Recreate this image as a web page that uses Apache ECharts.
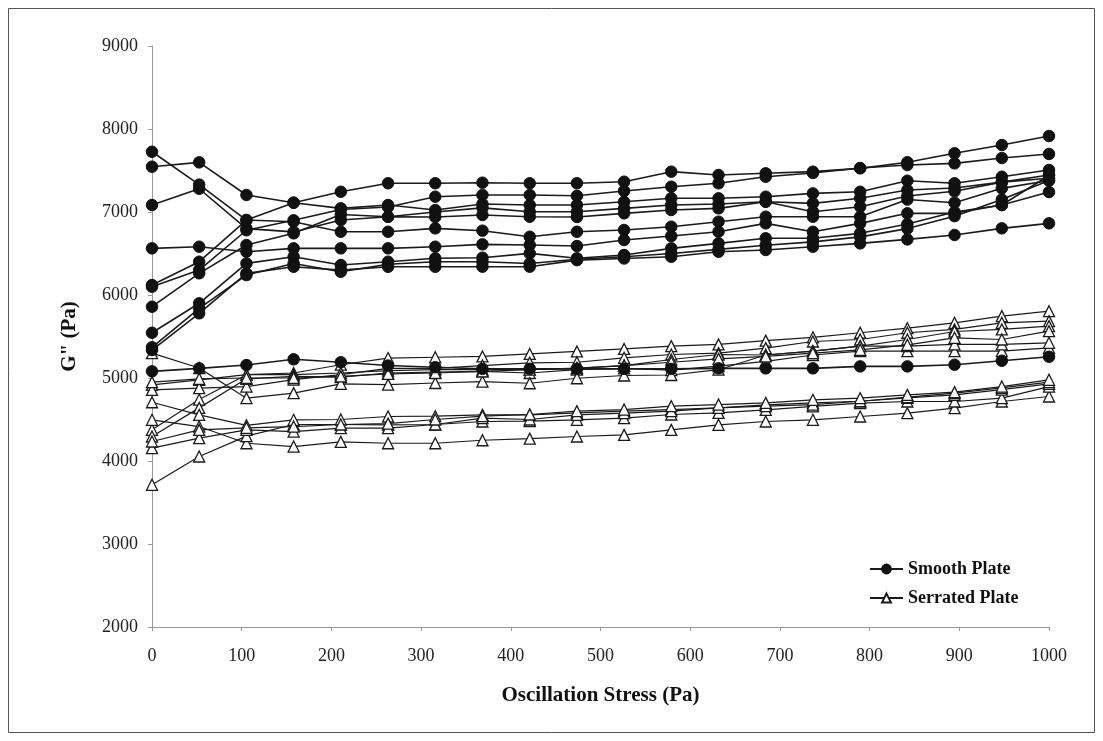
<!DOCTYPE html>
<html>
<head>
<meta charset="utf-8">
<script src="https://cdn.jsdelivr.net/npm/echarts@6/dist/echarts.min.js"></script>
<style>
  html, body { margin: 0; padding: 0; background: #fff; }
  #chart { width: 1103px; height: 741px; }
</style>
</head>
<body>
<div id="chart"></div>
<script>
// Oscillation stress sweep points (Pa)
const stress = [0, 52.6, 105.3, 157.9, 210.5, 263.2, 315.8, 368.4, 421.1, 473.7,
                526.3, 578.9, 631.6, 684.2, 736.8, 789.5, 842.1, 894.7, 947.4, 1000];

// G'' (Pa), smooth plate runs
const smooth1  = [6120, 6401, 6903, 7112, 7244, 7346, 7346, 7353, 7346, 7346, 7365, 7486, 7446, 7466, 7486, 7526, 7600, 7707, 7807, 7915];
const smooth2  = [6100, 6300, 6780, 6900, 7030, 7060, 7184, 7205, 7205, 7195, 7253, 7305, 7346, 7425, 7470, 7530, 7566, 7586, 7650, 7699];
const smooth3  = [7546, 7598, 7205, 7112, 7044, 7084, 7024, 7096, 7084, 7084, 7124, 7165, 7165, 7184, 7224, 7244, 7377, 7346, 7425, 7506];
const smooth4  = [5859, 6261, 6602, 6743, 6970, 6943, 7000, 7050, 7003, 7003, 7044, 7084, 7096, 7124, 7104, 7165, 7265, 7290, 7360, 7446];
const smooth5  = [7084, 7280, 6800, 6760, 6903, 6943, 6940, 6964, 6943, 6940, 6984, 7024, 7044, 7124, 7003, 7064, 7193, 7250, 7360, 7406];
const smooth6  = [7726, 7330, 6903, 6883, 6762, 6762, 6803, 6775, 6702, 6762, 6783, 6823, 6883, 6943, 6943, 6943, 7150, 7112, 7285, 7380];
const smooth7  = [6562, 6582, 6521, 6562, 6562, 6562, 6582, 6610, 6602, 6590, 6663, 6710, 6762, 6863, 6762, 6863, 6984, 6984, 7084, 7440];
const smooth8  = [5545, 5900, 6381, 6461, 6361, 6401, 6442, 6449, 6501, 6442, 6482, 6562, 6622, 6683, 6683, 6743, 6855, 7000, 7084, 7240];
const smooth9  = [5337, 5779, 6261, 6340, 6300, 6340, 6340, 6341, 6341, 6420, 6440, 6461, 6521, 6542, 6582, 6622, 6670, 6723, 6803, 6863];
const smooth10 = [5370, 5840, 6240, 6380, 6280, 6370, 6400, 6400, 6380, 6430, 6460, 6500, 6550, 6600, 6640, 6700, 6800, 6950, 7150, 7380];
const smooth11 = [5080, 5116, 5156, 5225, 5190, 5150, 5130, 5110, 5110, 5110, 5110, 5110, 5116, 5116, 5116, 5140, 5140, 5160, 5208, 5256];

// G'' (Pa), serrated plate runs
const serrated1  = [4917, 4978, 5040, 5060, 5160, 5240, 5250, 5260, 5290, 5320, 5350, 5384, 5404, 5450, 5490, 5545, 5600, 5665, 5745, 5805];
const serrated2  = [4857, 4877, 4897, 4980, 5040, 5116, 5116, 5150, 5183, 5190, 5243, 5283, 5300, 5360, 5440, 5464, 5545, 5585, 5665, 5685];
const serrated3  = [4376, 4740, 5040, 5040, 5060, 5090, 5100, 5100, 5100, 5116, 5150, 5223, 5283, 5277, 5323, 5384, 5464, 5560, 5585, 5625];
const serrated4  = [4295, 4640, 4990, 5020, 5010, 5060, 5070, 5080, 5060, 5100, 5116, 5096, 5143, 5200, 5277, 5323, 5323, 5323, 5323, 5363];
const serrated5  = [5300, 5120, 4757, 4818, 4930, 4920, 4940, 4957, 4937, 4997, 5030, 5036, 5100, 5277, 5323, 5384, 5384, 5404, 5404, 5424];
const serrated6  = [4950, 4990, 5000, 5000, 5020, 5050, 5060, 5080, 5100, 5120, 5150, 5190, 5230, 5260, 5300, 5340, 5400, 5484, 5464, 5564];
const serrated7  = [4496, 4415, 4214, 4174, 4230, 4214, 4214, 4250, 4270, 4295, 4315, 4375, 4436, 4476, 4496, 4536, 4576, 4636, 4717, 4777];
const serrated8  = [3713, 4054, 4300, 4440, 4440, 4436, 4440, 4476, 4480, 4496, 4516, 4560, 4580, 4616, 4657, 4697, 4717, 4717, 4757, 4897];
const serrated9  = [4708, 4556, 4430, 4496, 4500, 4536, 4540, 4556, 4556, 4580, 4600, 4620, 4640, 4677, 4700, 4720, 4760, 4797, 4860, 4930];
const serrated10 = [4155, 4275, 4375, 4355, 4395, 4395, 4440, 4516, 4500, 4556, 4576, 4600, 4640, 4660, 4680, 4720, 4770, 4818, 4880, 4950];
const serrated11 = [4235, 4375, 4400, 4415, 4440, 4450, 4500, 4540, 4560, 4600, 4620, 4660, 4680, 4700, 4737, 4757, 4797, 4830, 4897, 4978];

const yTicks = { min: 2000, max: 9000, step: 1000 };
const xTicks = { min: 0, max: 1000, step: 100 };

const SMOOTH = 'Smooth Plate';
const SERRATED = 'Serrated Plate';

const smoothRuns = [smooth1, smooth2, smooth3, smooth4, smooth5, smooth6, smooth7, smooth8, smooth9, smooth10, smooth11];
const serratedRuns = [serrated1, serrated2, serrated3, serrated4, serrated5, serrated6, serrated7, serrated8, serrated9, serrated10, serrated11];

const pair = vals => vals.map((v, i) => [stress[i], v]);
const serif = '"Liberation Serif", "Times New Roman", "DejaVu Serif", serif';
const plain = v => String(v);

function runSeries(name, vals, isSmooth) {
  return {
    name: name,
    type: 'line',
    data: pair(vals),
    symbol: isSmooth ? 'circle' : 'triangle',
    symbolSize: isSmooth ? 11.5 : 11,
    z: isSmooth ? 3 : 2,
    lineStyle: { color: '#1a1a1a', width: isSmooth ? 1.6 : 1.2 },
    itemStyle: isSmooth
      ? { color: '#111', borderColor: '#111', borderWidth: 1 }
      : { color: '#fff', borderColor: '#1a1a1a', borderWidth: 1.3 },
    emphasis: { disabled: true },
    animation: false
  };
}

const series = [];
serratedRuns.forEach(r => series.push(runSeries(SERRATED, r, false)));
smoothRuns.forEach(r => series.push(runSeries(SMOOTH, r, true)));

const chart = echarts.init(document.getElementById('chart'), null, { renderer: 'canvas' });
chart.setOption({
  backgroundColor: '#fff',
  animation: false,
  graphic: [{
    type: 'rect',
    shape: { x: 8.5, y: 8.5, width: 1086, height: 724 },
    style: { fill: 'none', stroke: '#555', lineWidth: 1 },
    silent: true
  }],
  grid: { left: 152, right: 54, top: 46, bottom: 114 },
  legend: {
    orient: 'vertical',
    left: 864,
    top: 555,
    itemWidth: 33,
    itemHeight: 11,
    itemGap: 11,
    data: [SMOOTH, SERRATED],
    textStyle: { fontFamily: serif, fontWeight: 'bold', fontSize: 18, color: '#111', padding: [0, 0, 0, 0] }
  },
  xAxis: {
    type: 'value',
    min: xTicks.min, max: xTicks.max, interval: xTicks.step,
    name: 'Oscillation Stress (Pa)',
    nameLocation: 'middle',
    nameGap: 58,
    nameTextStyle: { fontFamily: serif, fontWeight: 'bold', fontSize: 21, color: '#111' },
    axisLine: { lineStyle: { color: '#9a9a9a', width: 1 } },
    axisTick: { show: true, length: 4, lineStyle: { color: '#9a9a9a' } },
    axisLabel: { fontFamily: serif, fontSize: 18, color: '#222', margin: 20, formatter: plain },
    splitLine: { show: false }
  },
  yAxis: {
    type: 'value',
    min: yTicks.min, max: yTicks.max, interval: yTicks.step,
    name: 'G" (Pa)',
    nameLocation: 'middle',
    nameGap: 72,
    nameRotate: 90,
    nameTextStyle: { fontFamily: serif, fontWeight: 'bold', fontSize: 21, color: '#111' },
    axisLine: { show: true, lineStyle: { color: '#9a9a9a', width: 1 } },
    axisTick: { show: true, length: 4, lineStyle: { color: '#9a9a9a' } },
    axisLabel: { fontFamily: serif, fontSize: 18, color: '#222', margin: 14, formatter: plain },
    splitLine: { show: false }
  },
  series: series
});
</script>
</body>
</html>
